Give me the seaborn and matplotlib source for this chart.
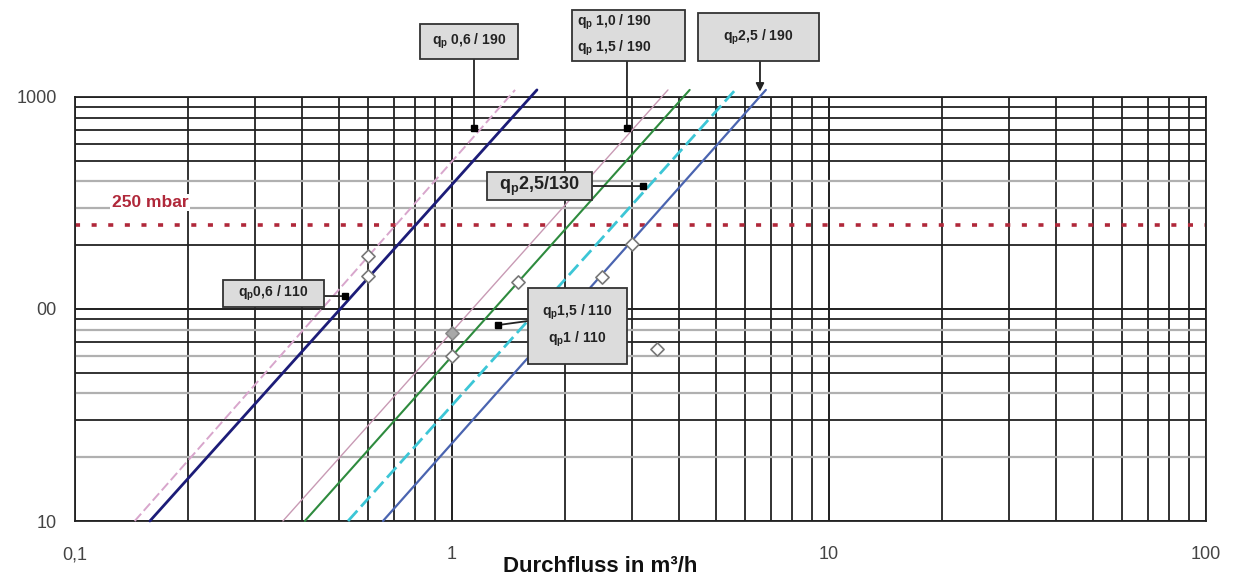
import numpy as np
import pandas as pd
import seaborn as sns
import matplotlib.pyplot as plt
import matplotlib.ticker as ticker
from matplotlib.patches import Rectangle

# Kennlinien: Anfang (y=10) und Ende (y~1080)
line_names = ['qp 0,6 / 190', 'qp 0,6 / 110', 'qp 1,0 / 190', 'qp 1,5 / 190',
              'qp 2,5 / 130', 'qp 2,5 / 190']
x_start = [0.144, 0.158, 0.356, 0.407, 0.530, 0.656]
x_end = [1.47, 1.68, 3.74, 4.27, 5.64, 6.80]
y_start = [10, 10, 10, 10, 10, 10]
y_end = [1080, 1080, 1080, 1080, 1080, 1080]

# Messpunkte (Rauten)
pt_x = [0.6, 0.6, 1.0, 1.0, 1.5, 2.5, 3.0, 3.5]
pt_y = [178, 143, 77, 60, 134, 142, 203, 65]
pt_filled = [False, False, True, False, False, False, False, False]

limit_mbar = 250

x_ticks = [0.1, 1, 10, 100]
x_ticklabels = ['0,1', '1', '10', '100']
y_ticks = [10, 100, 1000]
y_ticklabels = ['10', '00', '1000']

Q = r'$\mathbf{q_p}$'
# Beschriftungen: Text, Box (Pixel, oben-links/unten-rechts), Start Linie (Pixel), Ziel (Daten)
note_text = [Q + ' 0,6 / 190',
             Q + ' 1,0 / 190\n' + Q + ' 1,5 / 190',
             Q + '2,5 / 190',
             Q + '2,5/130',
             Q + '0,6 / 110',
             Q + '1,5 / 110\n' + Q + '1 / 110']
note_box = [(420, 24, 518, 59), (572, 10, 685, 61), (698, 13, 819, 61),
            (487, 172, 592, 200), (223, 280, 324, 307), (528, 288, 627, 364)]
note_from = [(474, 59), (627, 61), (760, 61), (592, 186), (324, 296), (528, 321)]
note_xy = [(1.144, 714), (2.91, 714), (6.56, 1060), (3.21, 380), (0.520, 115), (1.325, 84)]
note_size = [10, 10, 10, 13, 10, 10]
note_ha = ['center', 'left', 'center', 'center', 'center', 'center']
note_arrow = ['-', '-', '-|>', '-', '-', '-']

line_colors = ['#d8a6cc', '#1c1c78', '#c89ab4', '#2e8b3e', '#3cc6d6', '#4a64b0']
line_dash = [(5, 2), '', '', '', (5, 2), '']
line_width = [1.4, 2.0, 1.0, 1.5, 2.0, 1.6]

sns.set_style('white')
plt.rcParams['font.family'] = ['Liberation Sans', 'DejaVu Sans']
plt.rcParams['mathtext.fontset'] = 'custom'
plt.rcParams['mathtext.bf'] = 'Liberation Sans:bold'
plt.rcParams['mathtext.rm'] = 'Liberation Sans'

W, H = 1235, 580
fig = plt.figure(figsize=(W / 100, H / 100), dpi=100)
ax = fig.add_axes([75 / W, 1 - 521 / H, (1206 - 75) / W, (521 - 97) / H])
ax.set_xscale('log')
ax.set_yscale('log')
ax.set_xlim(0.1, 100)
ax.set_ylim(10, 1000)

# Gitter
for dec in [0.1, 1, 10]:
    for m in range(1, 11):
        ax.axvline(dec * m, color='#222222', lw=1.3, zorder=1)
grey_h = [20, 40, 60, 80, 300, 400]
for dec in [10, 100]:
    for m in range(1, 11):
        v = dec * m
        c = '#b0b0b0' if v in grey_h else '#222222'
        ax.axhline(v, color=c, lw=1.6 if v in grey_h else 1.3, zorder=1)

df = pd.DataFrame({
    'name': np.repeat(line_names, 2),
    'x': np.ravel(np.column_stack([x_start, x_end])),
    'y': np.ravel(np.column_stack([y_start, y_end])),
})
for i, name in enumerate(line_names):
    sub = df[df['name'] == name]
    sns.lineplot(data=sub, x='x', y='y', ax=ax, color=line_colors[i], lw=line_width[i],
                 legend=False, zorder=3, clip_on=False, sort=False)
    l = ax.lines[-1]
    if line_dash[i]:
        l.set_dashes(line_dash[i])

ax.axhline(limit_mbar, color='#b0283a', lw=2.6, ls=(0, (1.4, 3.2)), zorder=2)
ax.text(0.158, 318, '250 mbar', color='#b0283a', fontsize=12.5, fontweight='bold',
        ha='center', va='center', zorder=4,
        bbox=dict(facecolor='white', edgecolor='none', pad=1))

pts = pd.DataFrame({'x': pt_x, 'y': pt_y, 'f': pt_filled})
sns.scatterplot(data=pts[~pts['f']], x='x', y='y', ax=ax, marker='D', s=45,
                facecolor='white', edgecolor='#777777', linewidth=1.2, zorder=5)
sns.scatterplot(data=pts[pts['f']], x='x', y='y', ax=ax, marker='D', s=45,
                facecolor='#a8a8a8', edgecolor='#888888', linewidth=1.2, zorder=5)

for i, text in enumerate(note_text):
    x0, y0, x1, y1 = note_box[i]
    fig.add_artist(Rectangle((x0 / W, 1 - y1 / H), (x1 - x0) / W, (y1 - y0) / H,
                             transform=fig.transFigure, facecolor='#dcdcdc',
                             edgecolor='#333333', lw=1.3, zorder=10))
    tx = (x0 + 5) / W if note_ha[i] == 'left' else (x0 + x1) / 2 / W
    fig.text(tx, 1 - (y0 + y1) / 2 / H, text, ha=note_ha[i], va='center',
             fontsize=note_size[i], fontweight='bold', color='#222222',
             linespacing=1.55, zorder=11)
    fx, fy = note_from[i]
    ax.annotate('', xy=note_xy[i], xycoords='data', xytext=(fx / W, 1 - fy / H),
                textcoords='figure fraction', annotation_clip=False, zorder=6,
                arrowprops=dict(arrowstyle=note_arrow[i], color='#222222', lw=1.3,
                                shrinkA=0, shrinkB=0, mutation_scale=12))
    if note_arrow[i] == '-':
        ax.plot([note_xy[i][0]], [note_xy[i][1]], 's', color='black', ms=4, zorder=6, clip_on=False)

ax.xaxis.set_major_locator(ticker.FixedLocator(x_ticks))
ax.xaxis.set_major_formatter(ticker.FixedFormatter(x_ticklabels))
ax.xaxis.set_minor_formatter(ticker.NullFormatter())
ax.yaxis.set_major_locator(ticker.FixedLocator(y_ticks))
ax.yaxis.set_major_formatter(ticker.FixedFormatter(y_ticklabels))
ax.yaxis.set_minor_formatter(ticker.NullFormatter())
ax.tick_params(axis='both', which='both', direction='out', length=4, color='#555555',
               labelsize=13, labelcolor='#444444')
ax.tick_params(axis='x', pad=14)
ax.tick_params(axis='y', pad=9)
for s in ax.spines.values():
    s.set_color('#222222')
    s.set_linewidth(1.3)
ax.set_xlabel('')
ax.set_ylabel('')

fig.text(600 / W, 1 - 566 / H, 'Durchfluss in m³/h', ha='center', va='center',
         fontsize=16, fontweight='bold', color='#111111')

fig.savefig('out.png', dpi=100)
